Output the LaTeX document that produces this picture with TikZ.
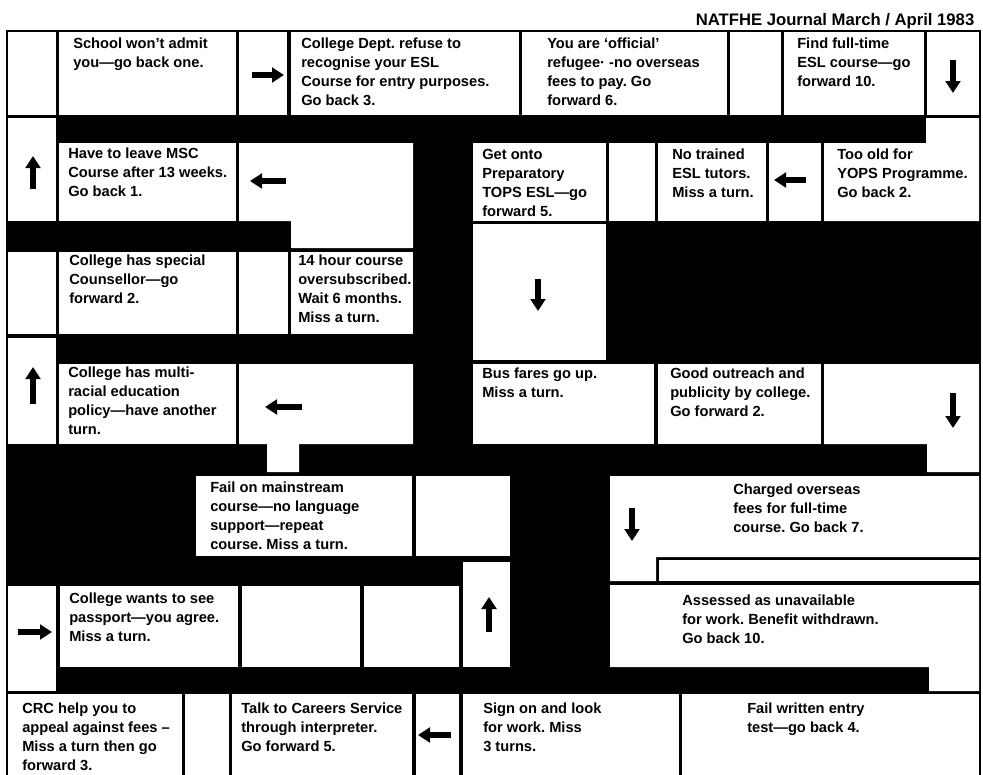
\documentclass[tikz,border=0pt]{standalone}
\usepackage{fontspec}
\setmainfont{Liberation Sans}
\usetikzlibrary{arrows.meta}
\frenchspacing

\tikzset{
  cell/.style={fill=white},
  card/.style={anchor=north west, inner sep=0pt, align=left,
    font=\fontsize{11}{14.25}\selectfont\bfseries},
  move/.style={line width=3.9pt, -{Triangle[length=9pt,width=11pt]}}
}

\begin{document}
\begin{tikzpicture}[x=0.75pt, y=-0.75pt]
  \useasboundingbox (0,0) rectangle (983,775);
  \node[anchor=base east, font=\fontsize{12.5}{14}\selectfont\bfseries] (title) at (979,25) {NATFHE Journal March / April 1983};
  % board
  \fill[black] (6,30) rectangle (981,775);
  % row 1
  \foreach \a/\b in {8/56, 59/236, 239/287, 291/519, 522/727, 730/781, 784/924, 927/979}
    \fill[cell] (\a,32) rectangle (\b,115);
  % row 2
  \fill[cell] (8,118) rectangle (56,221);
  \foreach \a/\b in {59/236, 473/606, 609/655, 658/766, 769/821}
    \fill[cell] (\a,143) rectangle (\b,221);
  \fill[cell] (239,143) -- (413,143) -- (413,248) -- (291,248) -- (291,221) -- (239,221) -- cycle;
  \fill[cell] (824,143) -- (926,143) -- (926,118) -- (979,118) -- (979,221) -- (824,221) -- cycle;
  \fill[cell] (473,224) rectangle (606,360);
  % row 3
  \foreach \a/\b in {8/56, 59/236, 239/288, 291/413}
    \fill[cell] (\a,252) rectangle (\b,334);
  % row 4
  \fill[cell] (8,338) rectangle (56,444);
  \foreach \a/\b in {59/236, 473/654, 658/821}
    \fill[cell] (\a,364) rectangle (\b,444);
  \fill[cell] (239,364) -- (413,364) -- (413,444) -- (299,444) -- (299,472) -- (267,472) -- (267,444) -- (239,444) -- cycle;
  \fill[cell] (824,364) -- (979,364) -- (979,472) -- (927,472) -- (927,444) -- (824,444) -- cycle;
  % row 5
  \fill[cell] (196,476) rectangle (412,556);
  \fill[cell] (416,476) rectangle (510,556);
  \fill[cell] (610,476) -- (979,476) -- (979,557) -- (656,557) -- (656,581) -- (610,581) -- cycle;
  \fill[cell] (659,560) rectangle (979,581);
  % row 6
  \fill[cell] (8,586) rectangle (56,691);
  \foreach \a/\b in {60/238, 242/360, 364/459}
    \fill[cell] (\a,586) rectangle (\b,667);
  \fill[cell] (463,562) rectangle (510,667);
  \fill[cell] (610,585) -- (979,585) -- (979,691) -- (929,691) -- (929,667) -- (610,667) -- cycle;
  % row 7
  \foreach \a/\b in {8/182, 185/229, 232/412, 416/459, 463/679, 682/979}
    \fill[cell] (\a,694) rectangle (\b,775);

  % squares
  \node[card] (school) at (73,38) {School won’t admit\\you—go back one.};
  \node[card] (dept) at (301,38) {College Dept. refuse to\\recognise your ESL\\Course for entry purposes.\\Go back 3.};
  \node[card] (refugee) at (547,38) {You are ‘official’\\refugee· -no overseas\\fees to pay. Go\\forward 6.};
  \node[card] (fulltime) at (797,38) {Find full-time\\ESL course—go\\forward 10.};
  \node[card] (msc) at (68,148) {Have to leave MSC\\Course after 13 weeks.\\Go back 1.};
  \node[card] (tops) at (482,149) {Get onto\\Preparatory\\TOPS ESL—go\\forward 5.};
  \node[card] (tutors) at (672,149) {No trained\\ESL tutors.\\Miss a turn.};
  \node[card] (yops) at (837,149) {Too old for\\YOPS Programme.\\Go back 2.};
  \node[card] (counsellor) at (69,255) {College has special\\Counsellor—go\\forward 2.};
  \node[card] (oversub) at (298,255) {14 hour course\\oversubscribed.\\Wait 6 months.\\Miss a turn.};
  \node[card] (policy) at (68,367) {College has multi-\\racial education\\policy—have another\\turn.};
  \node[card] (busfares) at (482,368) {Bus fares go up.\\Miss a turn.};
  \node[card] (outreach) at (670,368) {Good outreach and\\publicity by college.\\Go forward 2.};
  \node[card] (mainstream) at (210,482) {Fail on mainstream\\course—no language\\support—repeat\\course. Miss a turn.};
  \node[card] (overseas) at (733,484) {Charged overseas\\fees for full-time\\course. Go back 7.};
  \node[card] (passport) at (69,593) {College wants to see\\passport—you agree.\\Miss a turn.};
  \node[card] (benefit) at (682,595) {Assessed as unavailable\\for work. Benefit withdrawn.\\Go back 10.};
  \node[card] (crc) at (22,703) {CRC help you to\\appeal against fees –\\Miss a turn then go\\forward 3.};
  \node[card] (careers) at (241,703) {Talk to Careers Service\\through interpreter.\\Go forward 5.};
  \node[card] (signon) at (483,703) {Sign on and look\\for work. Miss\\3 turns.};
  \node[card] (entrytest) at (747,703) {Fail written entry\\test—go back 4.};

  % arrows
  \draw[move] (252,75) -- (284,75);
  \draw[move] (953,60) -- (953,93);
  \draw[move] (33,189) -- (33,156);
  \draw[move] (286,181) -- (250,181);
  \draw[move] (806,180) -- (774,180);
  \draw[move] (538,279) -- (538,311);
  \draw[move] (33,404) -- (33,367);
  \draw[move] (302,407) -- (265,407);
  \draw[move] (953,393) -- (953,428);
  \draw[move] (632,508) -- (632,541);
  \draw[move] (18,632) -- (52,632);
  \draw[move] (489,632) -- (489,597);
  \draw[move] (451,735) -- (418,735);
\end{tikzpicture}
\end{document}
